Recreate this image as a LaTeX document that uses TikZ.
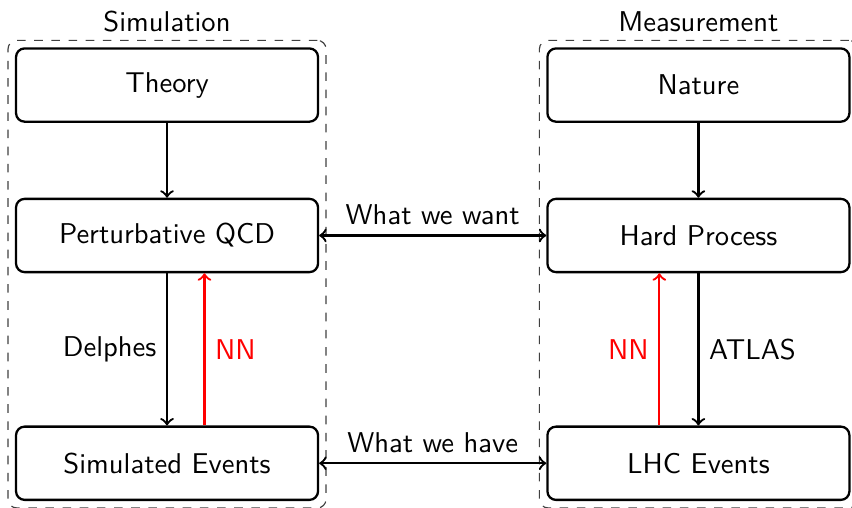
\documentclass[tikz,border=0pt]{standalone}
\usepackage{tikz}
\usetikzlibrary{
  positioning, fit, calc, arrows
}
\tikzset{
	procbox/.style={draw, thick, rounded corners=3pt, minimum width=3.71cm, minimum height=0.90cm, align=center}
}
\tikzset{
	groupbox/.style={draw=black!75, dashed, rounded corners=3pt, inner sep=2.4pt}
}
\tikzset{
	flow/.style={->, thick},
	nnflow/.style={->, thick, red}
}

\begin{document}
\begin{tikzpicture}[font=\sffamily]

			\useasboundingbox (0,0) rectangle (10.467,6.229);

			\begin{scope}
				\node[procbox] (theory) at (2.052,5.184) {Theory};
				\node[procbox, below=0.92cm of theory] (pqcd) {Perturbative QCD};
				\node[procbox, below=1.87cm of pqcd] (simev) {Simulated Events};
			\end{scope}

			\begin{scope}
				\node[procbox, right=2.79cm of theory] (nature) {Nature};
				\node[procbox, right=2.79cm of pqcd] (hard) {Hard Process};
				\node[procbox, right=2.79cm of simev] (lhcev) {LHC Events};
			\end{scope}

			\node[groupbox, fit=(theory) (simev), label={[label distance=-0.8pt]above:Simulation}] (simbox) {};
			\node[groupbox, fit=(nature) (lhcev), label={[label distance=-0.8pt]above:Measurement}] (measbox) {};

			\draw[flow] (theory) -- (pqcd);
			\draw[flow] (pqcd) -- node[left] {Delphes} (simev);
			\draw[nnflow] ($(simev.north)+(0.46,0)$) -- node[right] {NN} ($(pqcd.south)+(0.46,0)$);

			\draw[flow] (nature) -- (hard);
			\draw[flow] (hard) -- node[right] {ATLAS} (lhcev);
			\draw[nnflow] ($(lhcev.north)+(-0.48,0)$) -- node[left] {NN} ($(hard.south)+(-0.48,0)$);

			\draw[flow, <->] (pqcd) -- node[above] {What we want} (hard);
			\draw[flow, <->] (simev) -- node[above] {What we have} (lhcev);

		\end{tikzpicture}
\end{document}
